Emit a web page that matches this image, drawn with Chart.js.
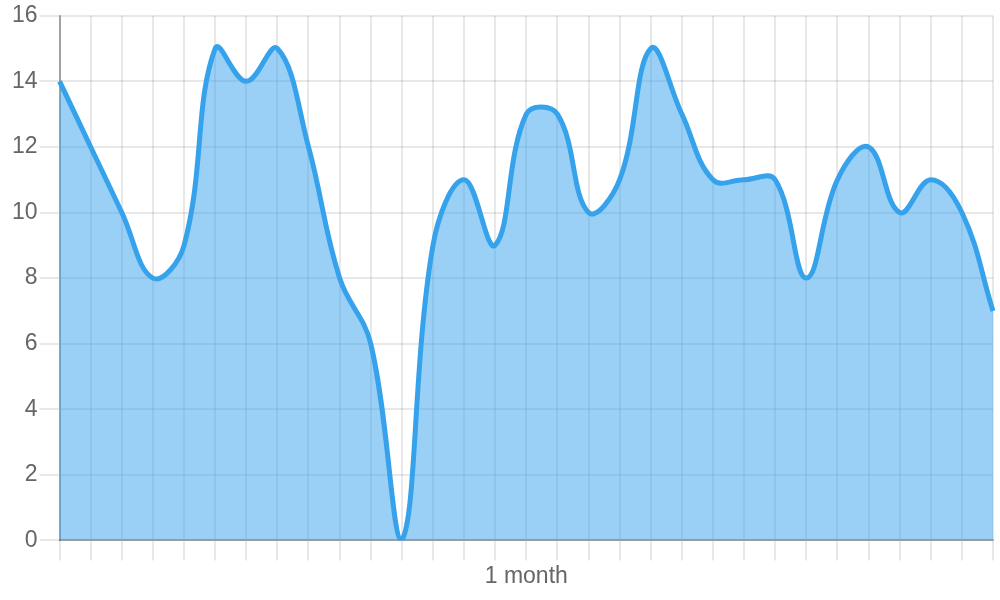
<!DOCTYPE html>
<html>
<head>
<meta charset="utf-8">
<script src="https://cdn.jsdelivr.net/npm/chart.js@4"></script>
<style>
  html, body { margin: 0; padding: 0; background: #fff; }
  #wrap { width: 1000px; height: 600px; }
</style>
</head>
<body>
<div id="wrap"><canvas id="chart"></canvas></div>
<script>
const labels = ['', '', '', '', '', '', '', '', '', '', '', '', '', '', '', '1 month',
    '', '', '', '', '', '', '', '', '', '', '', '', '', '', ''];
const values = [14, 12, 10, 8, 9, 15, 14, 15, 12, 8, 6, 0, 9, 11, 9, 13,
    13, 10, 11, 15, 13, 11, 11, 11, 8, 11, 12, 10, 11, 10, 7];
const yTicks = { min: 0, max: 16, step: 2 };

function populateChart() {
    const ctx = document.getElementById('chart').getContext('2d');
    const tickFont = { family: 'Liberation Sans', size: 23 };
    const myChart = new Chart(ctx, {
        type: 'line',
        data: {
            labels: labels,
            datasets: [{
                data: values,
                fill: true,
                backgroundColor: 'rgba(54, 162, 235, 0.5)',
                borderColor: 'rgba(54, 162, 235, 1)',
                borderWidth: 5,
                pointRadius: 0,
                tension: 0.4
            }]
        },
        options: {
            responsive: true,
            maintainAspectRatio: false,
            animation: false,
            layout: { padding: { top: 15, right: 7, bottom: 8, left: 10 } },
            plugins: {
                legend: { display: false },
                tooltip: { enabled: false }
            },
            scales: {
                x: {
                    grid: { color: 'rgba(0,0,0,0.09)', lineWidth: 2, tickLength: 20 },
                    border: { color: 'rgba(0,0,0,0.3)', width: 2 },
                    ticks: {
                        color: '#666',
                        font: tickFont,
                        autoSkip: false,
                        maxRotation: 0,
                        padding: 2
                    }
                },
                y: {
                    min: yTicks.min,
                    max: yTicks.max,
                    grid: { color: 'rgba(0,0,0,0.09)', lineWidth: 2, tickLength: 20 },
                    border: { color: 'rgba(0,0,0,0.3)', width: 2 },
                    ticks: {
                        stepSize: yTicks.step,
                        color: '#666',
                        font: tickFont,
                        padding: 2
                    }
                }
            }
        }
    });
}

populateChart();
</script>
</body>
</html>
